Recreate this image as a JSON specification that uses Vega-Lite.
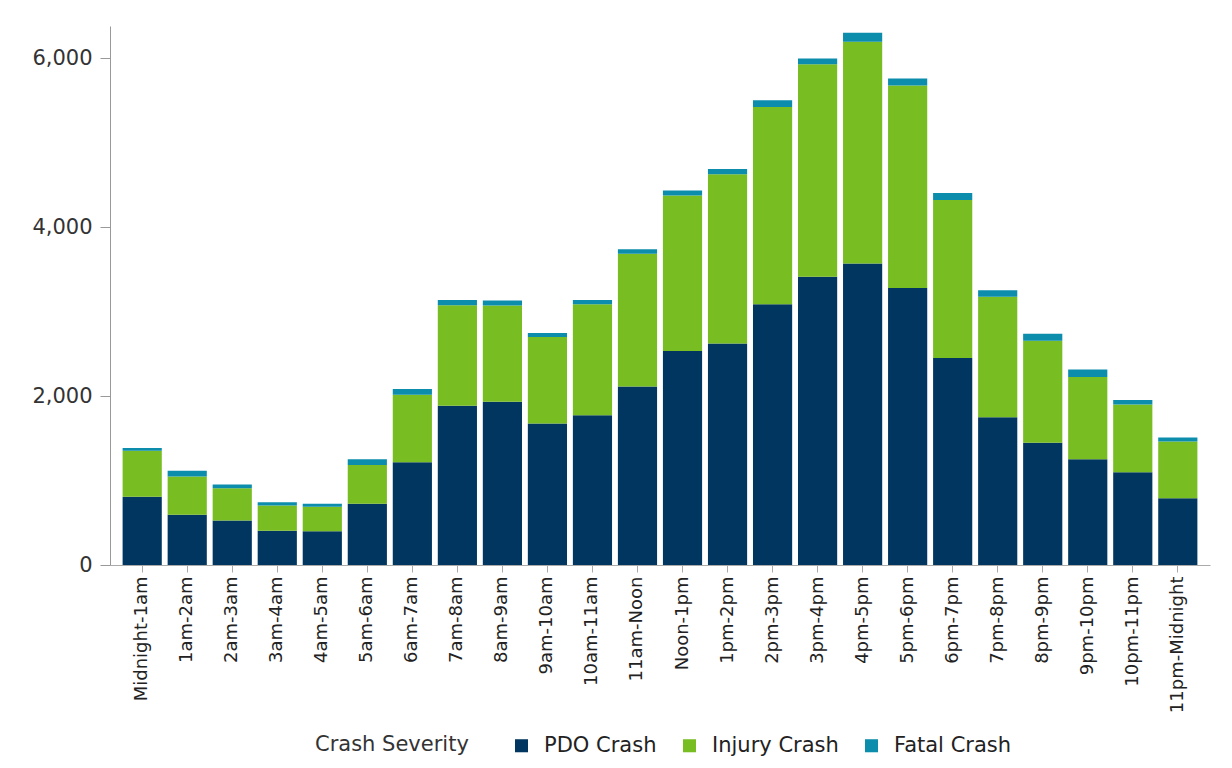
{
  "$schema": "https://vega.github.io/schema/vega-lite/v6.json",
  "autosize": {"type": "none"},
  "padding": {"left": 110, "top": 26, "right": 22, "bottom": 203},
  "width": 1100,
  "height": 539,
  "background": "white",
  "config": {
    "view": {"stroke": null},
    "font": "DejaVu Sans"
  },
  "data": {
    "values": [
      {"hour": "Midnight-1am", "PDO Crash": 808, "Injury Crash": 543, "Fatal Crash": 35},
      {"hour": "1am-2am", "PDO Crash": 595, "Injury Crash": 452, "Fatal Crash": 69},
      {"hour": "2am-3am", "PDO Crash": 526, "Injury Crash": 381, "Fatal Crash": 45},
      {"hour": "3am-4am", "PDO Crash": 405, "Injury Crash": 299, "Fatal Crash": 40},
      {"hour": "4am-5am", "PDO Crash": 400, "Injury Crash": 290, "Fatal Crash": 36},
      {"hour": "5am-6am", "PDO Crash": 726, "Injury Crash": 457, "Fatal Crash": 69},
      {"hour": "6am-7am", "PDO Crash": 1215, "Injury Crash": 801, "Fatal Crash": 68},
      {"hour": "7am-8am", "PDO Crash": 1885, "Injury Crash": 1191, "Fatal Crash": 62},
      {"hour": "8am-9am", "PDO Crash": 1931, "Injury Crash": 1140, "Fatal Crash": 59},
      {"hour": "9am-10am", "PDO Crash": 1676, "Injury Crash": 1024, "Fatal Crash": 45},
      {"hour": "10am-11am", "PDO Crash": 1772, "Injury Crash": 1313, "Fatal Crash": 53},
      {"hour": "11am-Noon", "PDO Crash": 2112, "Injury Crash": 1571, "Fatal Crash": 54},
      {"hour": "Noon-1pm", "PDO Crash": 2533, "Injury Crash": 1842, "Fatal Crash": 59},
      {"hour": "1pm-2pm", "PDO Crash": 2623, "Injury Crash": 2001, "Fatal Crash": 63},
      {"hour": "2pm-3pm", "PDO Crash": 3085, "Injury Crash": 2335, "Fatal Crash": 82},
      {"hour": "3pm-4pm", "PDO Crash": 3411, "Injury Crash": 2517, "Fatal Crash": 67},
      {"hour": "4pm-5pm", "PDO Crash": 3569, "Injury Crash": 2626, "Fatal Crash": 105},
      {"hour": "5pm-6pm", "PDO Crash": 3279, "Injury Crash": 2396, "Fatal Crash": 85},
      {"hour": "6pm-7pm", "PDO Crash": 2451, "Injury Crash": 1869, "Fatal Crash": 82},
      {"hour": "7pm-8pm", "PDO Crash": 1750, "Injury Crash": 1425, "Fatal Crash": 77},
      {"hour": "8pm-9pm", "PDO Crash": 1446, "Injury Crash": 1209, "Fatal Crash": 81},
      {"hour": "9pm-10pm", "PDO Crash": 1252, "Injury Crash": 972, "Fatal Crash": 91},
      {"hour": "10pm-11pm", "PDO Crash": 1097, "Injury Crash": 802, "Fatal Crash": 54},
      {"hour": "11pm-Midnight", "PDO Crash": 789, "Injury Crash": 674, "Fatal Crash": 47}
    ]
  },
  "transform": [
    {"fold": ["PDO Crash", "Injury Crash", "Fatal Crash"], "as": ["severity", "count"]}
  ],
  "mark": {"type": "bar"},
  "encoding": {
    "x": {
      "field": "hour",
      "type": "nominal",
      "sort": null,
      "scale": {"paddingInner": 0.13, "paddingOuter": 0.28},
      "axis": {
        "title": null,
        "labelAngle": -90,
        "labelFontSize": 18,
        "labelColor": "#222222",
        "labelPadding": 4,
        "tickSize": 7,
        "tickColor": "#aaaaaa",
        "domainColor": "#aaaaaa",
        "labelFont": "DejaVu Sans"
      }
    },
    "y": {
      "field": "count",
      "type": "quantitative",
      "stack": "zero",
      "scale": {"domain": [0, 6380], "nice": false},
      "axis": {
        "title": null,
        "values": [0, 2000, 4000, 6000],
        "format": ",d",
        "grid": false,
        "labelFontSize": 21,
        "labelColor": "#333333",
        "labelPadding": 8,
        "tickSize": 10,
        "tickColor": "#999999",
        "domainColor": "#999999",
        "labelFont": "DejaVu Sans"
      }
    },
    "color": {
      "field": "severity",
      "type": "nominal",
      "sort": ["PDO Crash", "Injury Crash", "Fatal Crash"],
      "scale": {
        "domain": ["PDO Crash", "Injury Crash", "Fatal Crash"],
        "range": ["#00365f", "#78bd22", "#0b8dab"]
      },
      "legend": {
        "title": "Crash Severity",
        "orient": "none",
        "legendX": 205,
        "legendY": 709,
        "direction": "horizontal",
        "titleOrient": "left",
        "titleFontSize": 21,
        "titleFontWeight": "normal",
        "titleColor": "#333333",
        "titlePadding": 42,
        "titleBaseline": "middle",
        "labelFontSize": 21,
        "labelColor": "#222222",
        "symbolType": "square",
        "symbolSize": 170,
        "symbolStrokeWidth": 0,
        "labelOffset": 12,
        "columnPadding": 22
      }
    },
    "order": {"field": "severity", "sort": "descending"}
  }
}
